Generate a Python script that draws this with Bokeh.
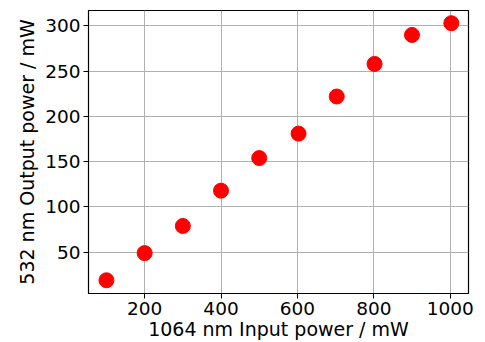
from bokeh.plotting import figure
from bokeh.models import FixedTicker, Range1d
from bokeh.embed import file_html
from bokeh.resources import INLINE

input_power = [100, 200, 300, 400, 500, 603, 703, 802, 900, 1003]
output_power = [19, 49, 79, 118, 154, 181, 222, 258, 290, 303]
x_ticks = [200, 400, 600, 800, 1000]
y_ticks = [50, 100, 150, 200, 250, 300]

FONT = "DejaVu Sans"

p = figure(width=485, height=342, output_backend="svg", toolbar_location=None,
           x_range=Range1d(53, 1048), y_range=Range1d(4.4, 317),
           min_border_left=88, min_border_right=17, min_border_top=10, min_border_bottom=49)

p.scatter(input_power, output_power, size=15, fill_color="#ff0000", line_color="#ff0000")

p.outline_line_color = "black"
p.outline_line_width = 1.2
p.outline_line_alpha = 1

for ax in (p.xaxis[0], p.yaxis[0]):
    ax.axis_line_color = "black"
    ax.major_tick_line_color = "black"
    ax.major_tick_out = 5
    ax.major_tick_in = 0
    ax.minor_tick_line_color = None
    ax.major_label_text_font = FONT
    ax.major_label_text_font_size = "18.5px"
    ax.major_label_text_color = "black"
    ax.axis_label_text_font = FONT
    ax.axis_label_text_font_size = "19px"
    ax.axis_label_text_font_style = "normal"
    ax.axis_label_text_color = "black"

p.xaxis.ticker = FixedTicker(ticks=x_ticks)
p.yaxis.ticker = FixedTicker(ticks=y_ticks)
p.xaxis.axis_label = "1064 nm Input power / mW"
p.yaxis.axis_label = "532 nm Output power / mW"
p.xaxis.major_label_standoff = 3
p.yaxis.major_label_standoff = 3
p.xaxis.axis_label_standoff = 0
p.yaxis.axis_label_standoff = 4

p.xgrid.ticker = FixedTicker(ticks=x_ticks)
p.ygrid.ticker = FixedTicker(ticks=y_ticks)
p.grid.grid_line_color = "#b0b0b0"
p.grid.grid_line_width = 1

open("out.html", "w").write(file_html(p, INLINE))
